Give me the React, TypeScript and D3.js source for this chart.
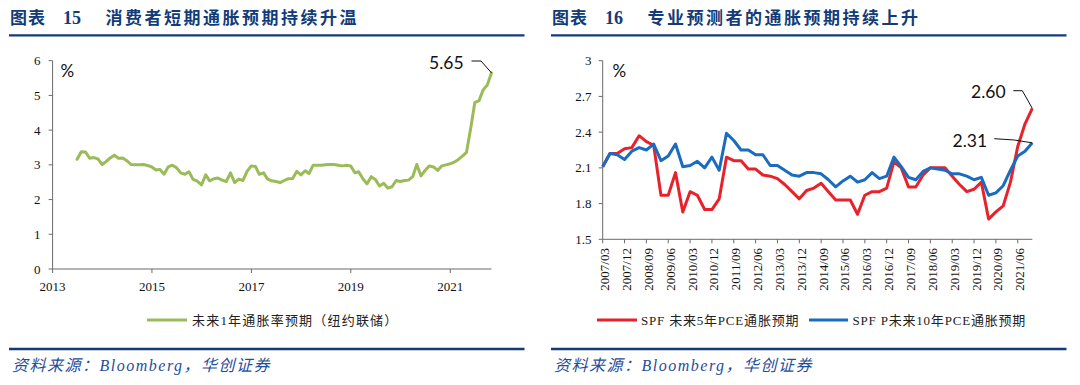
import React from "react";
import * as d3 from "d3";

// ---------- Left chart data (NY Fed 1-year-ahead inflation expectations, monthly from 2013/06) ----------
const leftStartYear = 2013;
const leftStartMonth = 5; // June (0-based)
const inflation1y = [
  3.16, 3.38, 3.37, 3.19, 3.21, 3.17, 3.01, 3.1, 3.2, 3.28,
  3.19, 3.2, 3.12, 3.01, 3.0, 3.0, 3.01, 2.98, 2.94, 2.85,
  2.87, 2.73, 2.94, 2.99, 2.92, 2.77, 2.73, 2.8, 2.58, 2.53,
  2.42, 2.71, 2.54, 2.6, 2.62, 2.56, 2.52, 2.77, 2.49, 2.59,
  2.55, 2.81, 2.97, 2.95, 2.73, 2.77, 2.59, 2.54, 2.52, 2.49,
  2.55, 2.6, 2.61, 2.81, 2.71, 2.83, 2.75, 2.99, 2.99, 2.99,
  3.0, 3.01, 3.01, 2.99, 2.97, 2.99, 2.97, 2.77, 2.8, 2.6,
  2.45, 2.66, 2.58, 2.39, 2.47, 2.33, 2.37, 2.55, 2.52, 2.55,
  2.56, 2.66, 3.01, 2.68, 2.84, 2.97, 2.94, 2.84, 2.97, 3.0,
  3.03, 3.08, 3.15, 3.25, 3.36, 4.05, 4.79, 4.85, 5.16, 5.3,
  5.65,
];
const leftYTicks = [0, 1, 2, 3, 4, 5, 6];
const leftXTickYears = [2013, 2015, 2017, 2019, 2021];
const leftLegend = "未来1年通胀率预期（纽约联储）";
const leftLastLabel = "5.65";

// ---------- Right chart data (SPF, quarterly) ----------
const quarters = [
  "2007/03", "2007/06", "2007/09", "2007/12", "2008/03", "2008/06", "2008/09", "2008/12",
  "2009/03", "2009/06", "2009/09", "2009/12", "2010/03", "2010/06", "2010/09", "2010/12",
  "2011/03", "2011/06", "2011/09", "2011/12", "2012/03", "2012/06", "2012/09", "2012/12",
  "2013/03", "2013/06", "2013/09", "2013/12", "2014/03", "2014/06", "2014/09", "2014/12",
  "2015/03", "2015/06", "2015/09", "2015/12", "2016/03", "2016/06", "2016/09", "2016/12",
  "2017/03", "2017/06", "2017/09", "2017/12", "2018/03", "2018/06", "2018/09", "2018/12",
  "2019/03", "2019/06", "2019/09", "2019/12", "2020/03", "2020/06", "2020/09", "2020/12",
  "2021/03", "2021/06", "2021/09", "2021/12",
];
const spf5y = [
  2.11, 2.22, 2.22, 2.26, 2.27, 2.37, 2.32, 2.29, 1.87, 1.87,
  2.06, 1.73, 1.9, 1.87, 1.75, 1.75, 1.84, 2.19, 2.16, 2.16,
  2.09, 2.09, 2.04, 2.03, 2.01, 1.96, 1.9, 1.84, 1.91, 1.93,
  1.97, 1.9, 1.83, 1.83, 1.83, 1.71, 1.87, 1.9, 1.9, 1.93,
  2.15, 2.1, 1.94, 1.94, 2.04, 2.1, 2.1, 2.1, 2.03, 1.96,
  1.9, 1.92, 1.98, 1.67, 1.73, 1.78, 1.98, 2.28, 2.47, 2.6,
];
const spf10y = [
  2.11, 2.22, 2.21, 2.17, 2.24, 2.27, 2.25, 2.3, 2.16, 2.2,
  2.3, 2.11, 2.12, 2.155, 2.1, 2.19, 2.08, 2.39, 2.33, 2.25,
  2.25, 2.21, 2.21, 2.12, 2.12, 2.08, 2.04, 2.03, 2.06, 2.06,
  2.05, 2.0, 1.94, 1.99, 2.03, 1.98, 2.0, 2.06, 2.01, 2.03,
  2.19, 2.11, 2.02, 2.0, 2.07, 2.1, 2.09, 2.08, 2.05, 2.05,
  2.03, 2.0, 2.02, 1.87, 1.89, 1.95, 2.08, 2.2, 2.24, 2.31,
];
const rightYTicks = [1.5, 1.8, 2.1, 2.4, 2.7, 3];
const rightXTickLabels = quarters.filter((_, i) => i % 3 === 0);
const rightLegend5 = "SPF 未来5年PCE通胀预期";
const rightLegend10 = "SPF P未来10年PCE通胀预期";
const rightLastLabel5 = "2.60";
const rightLastLabel10 = "2.31";

const titleLeft = "消费者短期通胀预期持续升温";
const titleRight = "专业预测者的通胀预期持续上升";
const sourceText = "资料来源：Bloomberg，华创证券";

const GREEN = "#9BBB59";
const RED = "#E8222B";
const BLUE = "#1A6CC0";
const NAVY = "#123B78";
const AXIS = "#6b6b6b";
const SERIF = "'Liberation Serif', 'Noto Sans CJK SC', serif";
const SANS = "Lato, 'Open Sans', sans-serif";
const CJK = "'Liberation Serif', 'Noto Sans CJK SC', sans-serif";

function Panel({ x0, num, title }: { x0: number; num: string; title: string }) {
  return (
    <g>
      <text x={x0 + 10} y={24} fontFamily={CJK} fontWeight={700} fontSize={17} fill={NAVY} letterSpacing={1}>图表</text>
      <text x={x0 + 63} y={24} fontFamily={SERIF} fontWeight={700} fontSize={18} fill={NAVY}>{num}</text>
      <text x={x0 + 105.5} y={24} fontFamily={CJK} fontWeight={700} fontSize={17} fill={NAVY} letterSpacing={2.5}>{title}</text>
      <line x1={x0 + 9} x2={x0 + 524.5} y1={35.3} y2={35.3} stroke={NAVY} strokeWidth={2.3} />
      <line x1={x0 + 9} x2={x0 + 524.5} y1={349} y2={349} stroke={NAVY} strokeWidth={2.3} />
      <text x={x0 + 12} y={371} fontFamily={CJK} fontStyle="italic" fontSize={16} fill="#1F4E9A" letterSpacing={1.5}>{sourceText}</text>
    </g>
  );
}

function LeftChart() {
  const dates = inflation1y.map((_, i) => new Date(leftStartYear, leftStartMonth + i + 1, 0));
  const x = d3.scaleTime().domain([new Date(leftXTickYears[0], 0, 1), dates[dates.length - 1]]).range([52.6, 491.5]);
  const y = d3.scaleLinear().domain([0, 6]).range([269, 60.7]);
  const line = d3.line<number>().x((_, i) => x(dates[i])).y((d) => y(d));
  const lastX = x(dates[dates.length - 1]);
  const lastY = y(inflation1y[inflation1y.length - 1]);
  return (
    <g>
      <line x1={x.range()[0]} x2={x.range()[0]} y1={y(6)} y2={y(0)} stroke={AXIS} strokeWidth={1} />
      <line x1={x.range()[0]} x2={x.range()[1]} y1={y(0)} y2={y(0)} stroke={AXIS} strokeWidth={1} />
      {leftYTicks.map((t) => (
        <g key={t}>
          <line x1={x.range()[0] - 4} x2={x.range()[0]} y1={y(t)} y2={y(t)} stroke={AXIS} />
          <text x={40.5} y={y(t)} dy="0.35em" textAnchor="end" fontFamily={SERIF} fontSize={13} fill="#111">{t}</text>
        </g>
      ))}
      {leftXTickYears.map((yr) => {
        const xp = x(new Date(yr, 0, 1));
        return (
          <g key={yr}>
            <line x1={xp} x2={xp} y1={y(0)} y2={y(0) + 4} stroke={AXIS} />
            <text x={xp} y={290.5} textAnchor="middle" fontFamily={SERIF} fontSize={13} fill="#111">{yr}</text>
          </g>
        );
      })}
      <text x={60.5} y={77} fontFamily={SANS} fontSize={17} fill="#111">%</text>
      <path d={line(inflation1y) || ""} fill="none" stroke={GREEN} strokeWidth={3} strokeLinejoin="round" strokeLinecap="round" />
      <text x={429} y={68.5} fontFamily={SANS} fontSize={17.5} fill="#111">{leftLastLabel}</text>
      <polyline points={`${lastX - 20},${61} ${lastX - 10.5},${61} ${lastX},${lastY}`} fill="none" stroke="#111" strokeWidth={1} />
      <line x1={147} x2={187} y1={320} y2={320} stroke={GREEN} strokeWidth={3} />
      <text x={192} y={324.5} fontFamily={CJK} fontSize={13} fill="#222" letterSpacing={1.2}>{leftLegend}</text>
    </g>
  );
}

function RightChart() {
  const x = d3.scalePoint<string>().domain(quarters).range([602.7, 1032.3]);
  const y = d3.scaleLinear().domain([1.5, 3]).range([239.3, 60.7]);
  const mk = (vals: number[]) =>
    d3.line<number>().x((_, i) => x(quarters[i]) as number).y((d) => y(d))(vals) || "";
  const lastX = x(quarters[quarters.length - 1]) as number;
  const y5 = y(spf5y[spf5y.length - 1]);
  const y10 = y(spf10y[spf10y.length - 1]);
  const x0 = x.range()[0];
  return (
    <g>
      <line x1={x0} x2={x0} y1={y(3)} y2={y(1.5)} stroke={AXIS} />
      <line x1={x0} x2={x.range()[1]} y1={y(1.5)} y2={y(1.5)} stroke={AXIS} />
      {rightYTicks.map((t) => (
        <g key={t}>
          <line x1={x0 - 4} x2={x0} y1={y(t)} y2={y(t)} stroke={AXIS} />
          <text x={591.5} y={y(t)} dy="0.35em" textAnchor="end" fontFamily={SERIF} fontSize={13} fill="#111">{String(t)}</text>
        </g>
      ))}
      {rightXTickLabels.map((q) => {
        const xp = x(q) as number;
        return (
          <g key={q}>
            <line x1={xp} x2={xp} y1={y(1.5)} y2={y(1.5) + 4} stroke={AXIS} />
            <text transform={`translate(${xp},248) rotate(-90)`} textAnchor="end" dy="0.5em" fontFamily={SERIF} fontSize={13} fill="#111">{q}</text>
          </g>
        );
      })}
      <text x={612.5} y={77} fontFamily={SANS} fontSize={17} fill="#111">%</text>
      <path d={mk(spf5y)} fill="none" stroke={RED} strokeWidth={3} strokeLinejoin="round" />
      <path d={mk(spf10y)} fill="none" stroke={BLUE} strokeWidth={3} strokeLinejoin="round" />
      <text x={971} y={97.5} fontFamily={SANS} fontSize={17.5} fill="#111">{rightLastLabel5}</text>
      <polyline points={`${lastX - 19},${90.7} ${lastX - 10},${90.7} ${lastX},${y5}`} fill="none" stroke="#111" strokeWidth={1} />
      <text x={952.5} y={147} fontFamily={SANS} fontSize={17.5} fill="#111">{rightLastLabel10}</text>
      <polyline points={`${lastX - 38},${138.7} ${lastX - 18},${140} ${lastX},${y10}`} fill="none" stroke="#111" strokeWidth={1} />
      <line x1={597} x2={637} y1={320} y2={320} stroke={RED} strokeWidth={3} />
      <text x={641} y={324.5} fontFamily={CJK} fontSize={13} fill="#222" letterSpacing={0.8}>{rightLegend5}</text>
      <line x1={809} x2={848} y1={320} y2={320} stroke={BLUE} strokeWidth={3} />
      <text x={852.5} y={324.5} fontFamily={CJK} fontSize={13} fill="#222" letterSpacing={0.8}>{rightLegend10}</text>
    </g>
  );
}

export default function App() {
  return (
    <svg width={1080} height={385} style={{ position: "absolute", left: 0, top: 0, background: "#fff" }}>
      <rect width={1080} height={385} fill="#fff" />
      <Panel x0={0} num="15" title={titleLeft} />
      <Panel x0={542} num="16" title={titleRight} />
      <LeftChart />
      <RightChart />
    </svg>
  );
}
